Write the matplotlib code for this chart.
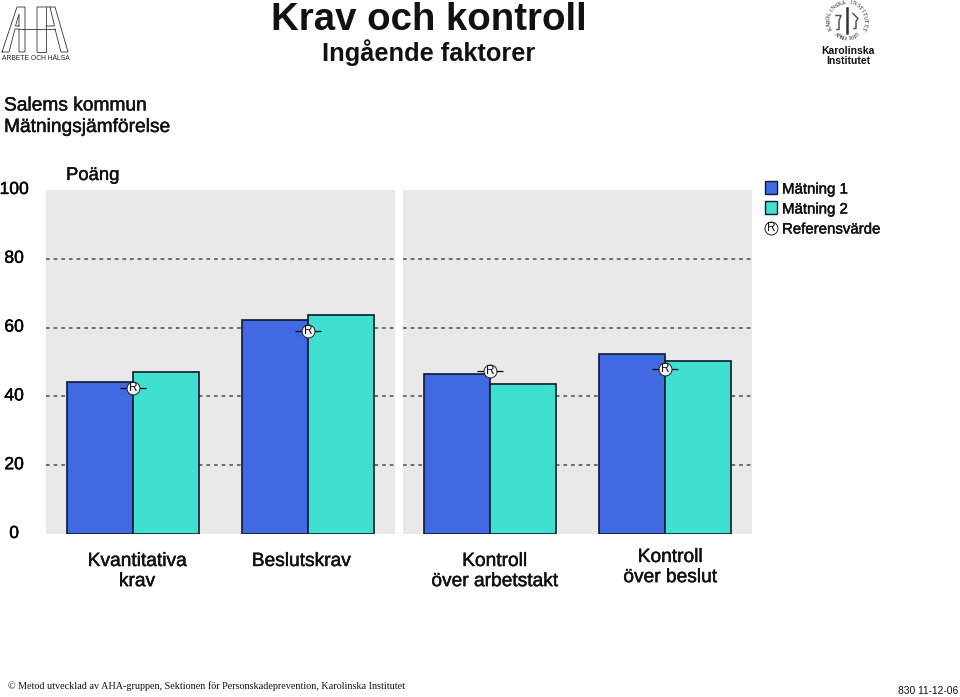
import numpy as np
import matplotlib
matplotlib.use("Agg")
import matplotlib.pyplot as plt
from matplotlib.patches import Rectangle
from matplotlib.transforms import ScaledTranslation
import matplotlib.patheffects as pe

# ---------- data ----------
categories = ["Kvantitativa\nkrav", "Beslutskrav", "Kontroll\növer arbetstakt", "Kontroll\növer beslut"]
matning1 = [44.2, 62.2, 46.4, 52.3]
matning2 = [47.1, 63.8, 43.7, 50.3]
referens = [42.4, 59.0, 47.5, 48.0]
yticks = [0, 20, 40, 60, 80, 100]
grid_levels = [20, 40, 60, 80]
series_names = ["Mätning 1", "Mätning 2", "Referensvärde"]

BLUE, TEAL, EDGE, PANEL = "#4169E1", "#40E0D0", "#0B1A2E", "#E9E9E9"
W, H = 960, 697
plt.rcParams["font.family"] = ["Liberation Sans", "DejaVu Sans"]
fig = plt.figure(figsize=(W / 100, H / 100), dpi=100, facecolor="white")
semi = [pe.withStroke(linewidth=0.3, foreground="black")]

def axes_px(x0, x1, ytop, ybot):
    return fig.add_axes([x0 / W, 1 - ybot / H, (x1 - x0) / W, (ybot - ytop) / H])

panels = [axes_px(46, 395, 190, 534), axes_px(403, 752, 190, 534)]
# label offsets in pixels from the foot of each group
label_offsets = [(4, -19), (-7, -19), (4.5, -19), (5, -15)]
for p, ax in enumerate(panels):
    idx = [2 * p, 2 * p + 1]
    ax.set_facecolor(PANEL)
    ax.set_xlim(-0.497, 1.497)
    ax.set_ylim(0, 100)
    for s in ax.spines.values():
        s.set_visible(False)
    ax.set_xticks([])
    for lv in grid_levels:
        ax.axhline(lv, color="#4A4A4A", lw=1.1, ls=(0, (2.4, 2.6)), zorder=1)
    for j, i in enumerate(idx):
        ax.bar(j - 0.1886, matning1[i], width=0.377, color=BLUE, edgecolor=EDGE, lw=1.2, zorder=2)
        ax.bar(j + 0.1886, matning2[i], width=0.377, color=TEAL, edgecolor=EDGE, lw=1.2, zorder=2)
        ax.errorbar(j, referens[i], xerr=0.072, color="black", lw=0.9, capsize=0, zorder=3)
        ax.plot(j, referens[i], "o", ms=9.3, mfc="#F4F4F4", mec="#222222", mew=0.7, zorder=4)
        ax.text(j, referens[i] - 0.1, "R", ha="center", va="center", fontsize=8.5, color="#111111", zorder=5)
        ax.annotate(categories[i], xy=(j, 0), xytext=(label_offsets[i][0] * 0.72, label_offsets[i][1] * 0.72),
                    textcoords="offset points", ha="center", va="top",
                    fontsize=13.8, linespacing=1.24, annotation_clip=False, path_effects=semi, color="#111111")
    if p == 0:
        ax.set_yticks(yticks)
        ax.tick_params(axis="y", length=0, pad=23)
        shift = ScaledTranslation(0, 2 / 100, fig.dpi_scale_trans)
        for tk in ax.yaxis.get_major_ticks():
            lab = tk.label1
            lab.set_ha("center")
            lab.set_fontsize(12.6)
            lab.set_path_effects(semi)
            lab.set_transform(lab.get_transform() + shift)
    else:
        ax.set_yticks([])

# ---------- overlay in pixel coordinates: titles, legend, logos ----------
ov = fig.add_axes([0, 0, 1, 1], zorder=10)
ov.set_xlim(0, W); ov.set_ylim(H, 0); ov.axis("off"); ov.patch.set_alpha(0)

ov.text(429, 20, "Krav och kontroll", ha="center", va="center", fontsize=27.6, fontweight="bold", color="#111111")
ov.text(429, 52.5, "Ingående faktorer", ha="center", va="center", fontsize=18.3, fontweight="bold", color="#111111")
ov.text(4, 106, "Salems kommun", ha="left", va="center", fontsize=13.8, path_effects=semi, color="#111111")
ov.text(4, 127.5, "Mätningsjämförelse", ha="left", va="center", fontsize=13.8, path_effects=semi, color="#111111")
ov.text(66, 175.5, "Poäng", ha="left", va="center", fontsize=13.3, path_effects=semi, color="#111111")

# legend
ov.add_patch(Rectangle((764.5, 181), 12.5, 12.5, fc=BLUE, ec=EDGE, lw=1))
ov.add_patch(Rectangle((764.5, 201), 12.5, 12.5, fc=TEAL, ec=EDGE, lw=1))
ov.plot([771], [228], "o", ms=9.3, mfc="white", mec="#222222", mew=0.7)
ov.text(771, 228, "R", ha="center", va="center", fontsize=8.5, color="#111111")
for yy, name in zip([189.5, 209.5, 229.5], series_names):
    ov.text(782, yy, name, ha="left", va="center", fontsize=10.8, path_effects=semi, color="#111111")

# footer
ov.text(8, 686, "© Metod utvecklad av AHA-gruppen, Sektionen för Personskadeprevention, Karolinska Institutet",
        ha="left", va="center", fontsize=7.34, family="Liberation Serif", color="#111111")
ov.text(958, 691, "830 11-12-06", ha="right", va="center", fontsize=7.4, color="#111111")

# AHA logo
logo = [
    [(2, 52), (17, 7), (25, 7), (25, 52), (19, 52), (19, 29), (15, 29), (9, 52), (2, 52)],
    [(19, 26), (15.5, 26), (19, 14), (19, 26)],
    [(19, 29), (55, 29)],
    [(37, 52), (37, 7), (55, 7), (68, 52), (61, 52), (55, 29)],
    [(46, 7), (46, 52), (37, 52)],
    [(46, 26), (54.5, 26), (50, 7)],
]
for pl in logo:
    xs, ys = zip(*pl)
    ov.plot(xs, ys, color="#333333", lw=0.6, solid_joinstyle="miter")
ov.text(35.5, 58, "ARBETE OCH HÄLSA", ha="center", va="center", fontsize=4.9, color="#222222")

# Karolinska seal
cx, cy, r = 847, 20.5, 18.2
def arc_text(s, a0, a1, rr, top=True):
    for ch, a in zip(s, np.linspace(a0, a1, len(s))):
        rad = np.deg2rad(a)
        rot = a - 90 if top else a + 90
        ov.text(cx + rr * np.cos(rad), cy - rr * np.sin(rad), ch, ha="center", va="center",
                fontsize=4.1, family="Liberation Serif", rotation=rot, color="#111111")
arc_text("KAROLINSKA INSTITUTET", 205, -25, r)
arc_text("ANNO 1810", 235, 305, r, top=False)
ov.plot([cx, cx], [cy - 13, cy + 12], color="#333333", lw=1.8)
ov.plot([cx - 11, cx - 6, cx - 8, cx - 8, cx - 10], [cy - 5, cy - 5, cy, cy + 9, cy + 9], color="#555555", lw=1.1)
ov.plot([cx + 6, cx + 11, cx + 9, cx + 9, cx + 7], [cy - 7, cy - 2, cy + 1, cy + 8, cy + 8], color="#555555", lw=1.1)
ov.text(848, 51, "Karolinska", ha="center", va="center", fontsize=7.5, fontweight="bold", color="#111111")
ov.text(848, 61.5, "Institutet", ha="center", va="center", fontsize=7.5, fontweight="bold", color="#111111")

fig.savefig("out.png", dpi=100)
